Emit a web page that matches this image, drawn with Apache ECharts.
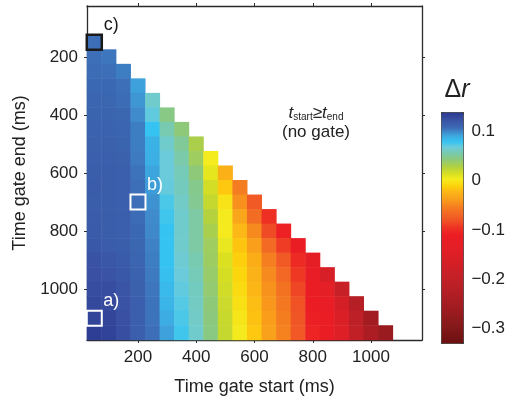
<!DOCTYPE html>
<html>
<head>
<meta charset="utf-8">
<script src="https://cdn.jsdelivr.net/npm/echarts@6/dist/echarts.min.js"></script>
<style>
  html, body { margin: 0; padding: 0; background: #fff; }
  #chart { width: 508px; height: 401px; }
</style>
</head>
<body>
<div id="chart"></div>
<script>
// gate start / end times (ms), one category per 50 ms bin
const gateStarts = [50, 100, 150, 200, 250, 300, 350, 400, 450, 500, 550, 600,
  650, 700, 750, 800, 850, 900, 950, 1000, 1050, 1100, 1150]
const gateEnds = gateStarts.slice()
const tickValues = [200, 400, 600, 800, 1000]
const cbarTicks = [-0.3, -0.25, -0.2, -0.15, -0.1, -0.05, 0, 0.05, 0.1]
const cbarLabels = [-0.3, -0.2, -0.1, 0, 0.1]

// delta r per gate start column, rows run from end = start + 100 down to 1150
const deltaR = [
  [0.108, 0.108, 0.109, 0.110, 0.112, 0.113, 0.114, 0.115, 0.116, 0.117, 0.118, 0.117, 0.118, 0.119, 0.121, 0.125, 0.126, 0.128, 0.131, 0.133, 0.137], // 50
  [0.106, 0.108, 0.110, 0.111, 0.113, 0.114, 0.115, 0.116, 0.117, 0.117, 0.117, 0.117, 0.117, 0.118, 0.122, 0.124, 0.128, 0.130, 0.133, 0.134], // 100
  [0.104, 0.108, 0.109, 0.111, 0.112, 0.113, 0.115, 0.116, 0.116, 0.116, 0.116, 0.116, 0.117, 0.119, 0.121, 0.123, 0.124, 0.126, 0.127], // 150
  [0.094, 0.097, 0.100, 0.104, 0.104, 0.105, 0.107, 0.108, 0.108, 0.109, 0.110, 0.111, 0.112, 0.114, 0.115, 0.116, 0.116, 0.116], // 200
  [0.066, 0.072, 0.080, 0.089, 0.090, 0.093, 0.095, 0.098, 0.100, 0.101, 0.103, 0.104, 0.105, 0.106, 0.107, 0.107, 0.108], // 250
  [0.047, 0.058, 0.066, 0.070, 0.070, 0.071, 0.076, 0.078, 0.080, 0.080, 0.080, 0.082, 0.085, 0.088, 0.091, 0.094], // 300
  [0.044, 0.052, 0.056, 0.060, 0.061, 0.064, 0.066, 0.066, 0.066, 0.068, 0.070, 0.072, 0.074, 0.076, 0.078], // 350
  [0.032, 0.037, 0.044, 0.049, 0.050, 0.055, 0.055, 0.055, 0.058, 0.060, 0.062, 0.063, 0.064, 0.066], // 400
  [0.005, 0.010, 0.017, 0.022, 0.028, 0.033, 0.037, 0.038, 0.040, 0.042, 0.044, 0.045, 0.046], // 450
  [-0.025, -0.014, 0.000, 0.004, 0.004, 0.009, 0.014, 0.016, 0.018, 0.020, 0.021, 0.022], // 500
  [-0.054, -0.043, -0.032, -0.020, -0.015, -0.011, -0.008, -0.005, -0.002, 0.001, 0.004], // 550
  [-0.075, -0.063, -0.046, -0.036, -0.027, -0.024, -0.021, -0.018, -0.016, -0.014], // 600
  [-0.096, -0.083, -0.065, -0.052, -0.046, -0.042, -0.040, -0.037, -0.035], // 650
  [-0.107, -0.090, -0.075, -0.066, -0.060, -0.056, -0.053, -0.050], // 700
  [-0.115, -0.100, -0.092, -0.085, -0.080, -0.078, -0.076], // 750
  [-0.130, -0.118, -0.115, -0.112, -0.108, -0.105], // 800
  [-0.162, -0.135, -0.120, -0.116, -0.115], // 850
  [-0.190, -0.165, -0.155, -0.145], // 900
  [-0.222, -0.205, -0.198], // 950
  [-0.252, -0.238], // 1000
  [-0.265] // 1050
]

// marked example gates: [start, end, label]
const marked = [[50, 1100, 'a)'], [200, 700, 'b)'], [50, 150, 'c)']]

// colour scale stops [value, colour]
const cmapStops = [
  [-0.33, '#6b1010'], [-0.29, '#881a1c'], [-0.26, '#9e1b20'], [-0.23, '#b01e24'],
  [-0.2, '#c12027'], [-0.17, '#d21f26'], [-0.14, '#e21f26'], [-0.11, '#ec1c24'],
  [-0.095, '#ee3124'], [-0.08, '#f05225'], [-0.065, '#f26a24'], [-0.05, '#f5821f'],
  [-0.035, '#f9a11b'], [-0.02, '#fcb816'], [-0.01, '#fdd20b'], [0.005, '#f4ec1e'],
  [0.015, '#d8df20'], [0.03, '#b0d043'], [0.045, '#8cc97e'], [0.06, '#75cab8'],
  [0.07, '#6ccbdb'], [0.08, '#35c4f1'], [0.09, '#3cb0e5'], [0.1, '#3f8bcb'],
  [0.11, '#3b68b2'], [0.125, '#3a52a4'], [0.14, '#2b3990']
]
const vMin = -0.33
const vMax = 0.14

function hex2rgb(h) {
  return [1, 3, 5].map(i => parseInt(h.substr(i, 2), 16))
}
function colourAt(v) {
  for (let i = 1; i < cmapStops.length; i++) {
    const [v1, c1] = cmapStops[i]
    const [v0, c0] = cmapStops[i - 1]
    if (v <= v1 + 1e-9) {
      const t = (v - v0) / (v1 - v0)
      const a = hex2rgb(c0)
      const b = hex2rgb(c1)
      return 'rgb(' + a.map((x, k) => Math.round(x + (b[k] - x) * t)).join(',') + ')'
    }
  }
  return cmapStops[cmapStops.length - 1][1]
}
const rampColours = []
for (let i = 0; i <= 94; i++) rampColours.push(colourAt(vMin + (vMax - vMin) * i / 94))

const cells = []
deltaR.forEach((col, ci) => {
  col.forEach((v, k) => {
    cells.push([ci, ci + 2 + k, v])
  })
})

const font = "'Liberation Sans', Arial, Helvetica, sans-serif"
const axisColor = '#2b2b2b'
const showTick = (i, v) => tickValues.indexOf(+v) >= 0
const cats = gateStarts.map(String)

function catAxis(pos, extra) {
  return Object.assign({
    type: 'category',
    data: cats,
    position: pos,
    gridIndex: 0,
    axisLine: { show: true, lineStyle: { color: axisColor, width: 1.3 } },
    axisTick: { show: true, interval: showTick, alignWithLabel: true, length: 3, lineStyle: { color: axisColor } },
    axisLabel: { show: false },
    splitLine: { show: false }
  }, extra)
}

const chart = echarts.init(document.getElementById('chart'))
chart.setOption({
  animation: false,
  textStyle: { fontFamily: font },
  grid: [
    { left: 87, top: 6, right: 86, bottom: 59 },
    { left: 441, top: 112, width: 22, height: 231 }
  ],
  xAxis: [
    catAxis('bottom', {
      name: 'Time gate start (ms)',
      nameLocation: 'middle',
      nameGap: 38,
      nameTextStyle: { fontSize: 18, color: '#222', fontFamily: font },
      axisLabel: { show: true, interval: showTick, fontSize: 17, color: '#222', margin: 9, fontFamily: font }
    }),
    catAxis('top'),
    { type: 'value', gridIndex: 1, show: false }
  ],
  yAxis: [
    catAxis('left', {
      inverse: true,
      name: 'Time gate end (ms)',
      nameLocation: 'middle',
      nameGap: 57,
      nameTextStyle: { fontSize: 18, color: '#222', fontFamily: font },
      axisLabel: { show: true, interval: showTick, fontSize: 17, color: '#222', margin: 9, fontFamily: font }
    }),
    catAxis('right', { inverse: true }),
    {
      type: 'value',
      gridIndex: 1,
      position: 'right',
      min: vMin,
      max: vMax,
      axisLine: { show: false },
      splitLine: { show: false },
      axisTick: { show: true, customValues: cbarTicks, length: 3, lineStyle: { color: axisColor } },
      axisLabel: {
        show: true,
        customValues: cbarLabels,
        margin: 9,
        fontSize: 17,
        color: '#222',
        fontFamily: font,
        formatter: v => (Math.round(v * 10) / 10).toString().replace('-', '\u2212')
      }
    }
  ],
  visualMap: {
    type: 'continuous',
    seriesIndex: 0,
    min: vMin,
    max: vMax,
    calculable: false,
    left: 441,
    top: 112,
    itemWidth: 22,
    itemHeight: 231,
    padding: 0,
    borderColor: axisColor,
    borderWidth: 1,
    inRange: { color: rampColours }
  },
  series: [
    {
      type: 'heatmap',
      xAxisIndex: 0,
      yAxisIndex: 0,
      data: cells,
      emphasis: { disabled: true }
    },
    {
      type: 'scatter',
      xAxisIndex: 0,
      yAxisIndex: 0,
      symbol: 'rect',
      symbolSize: [15, 15],
      silent: true,
      itemStyle: { opacity: 1 },
      data: marked.map(m => ({
        value: [String(m[0]), String(m[1])],
        itemStyle: {
          color: 'rgba(0,0,0,0)',
          opacity: 1,
          borderColor: m[2] === 'c)' ? '#1a1a1a' : '#ffffff',
          borderWidth: m[2] === 'c)' ? 2.5 : 2
        },
        label: {
          show: true,
          formatter: m[2],
          position: 'top',
          offset: [17, 5],
          fontSize: 18,
          fontFamily: font,
          opacity: 1,
          color: m[2] === 'c)' ? '#1a1a1a' : '#ffffff'
        }
      }))
    }
  ],
  graphic: [
    {
      type: 'text',
      x: 316,
      y: 113,
      style: {
        text: '{i|t}{s|start}{o|\u2265}{i|t}{s|end}',
        align: 'center',
        verticalAlign: 'middle',
        fill: '#222',
        rich: {
          i: { fontSize: 17, fontStyle: 'italic', fontFamily: font, fill: '#222' },
          s: { fontSize: 10, fontFamily: font, fill: '#222', verticalAlign: 'bottom', padding: [8, 0, 0, 0] },
          o: { fontSize: 17, fontFamily: font, fill: '#222' }
        }
      }
    },
    {
      type: 'text',
      x: 316,
      y: 132,
      style: { text: '(no gate)', align: 'center', verticalAlign: 'middle', fontSize: 17, fontFamily: font, fill: '#222' }
    },
    {
      type: 'text',
      x: 457,
      y: 90,
      style: {
        text: '{d|\u0394}{r|r}',
        align: 'center',
        verticalAlign: 'middle',
        rich: {
          d: { fontSize: 25, fontFamily: font, fill: '#222' },
          r: { fontSize: 25, fontStyle: 'italic', fontFamily: font, fill: '#222' }
        }
      }
    }
  ]
})
</script>
</body>
</html>
